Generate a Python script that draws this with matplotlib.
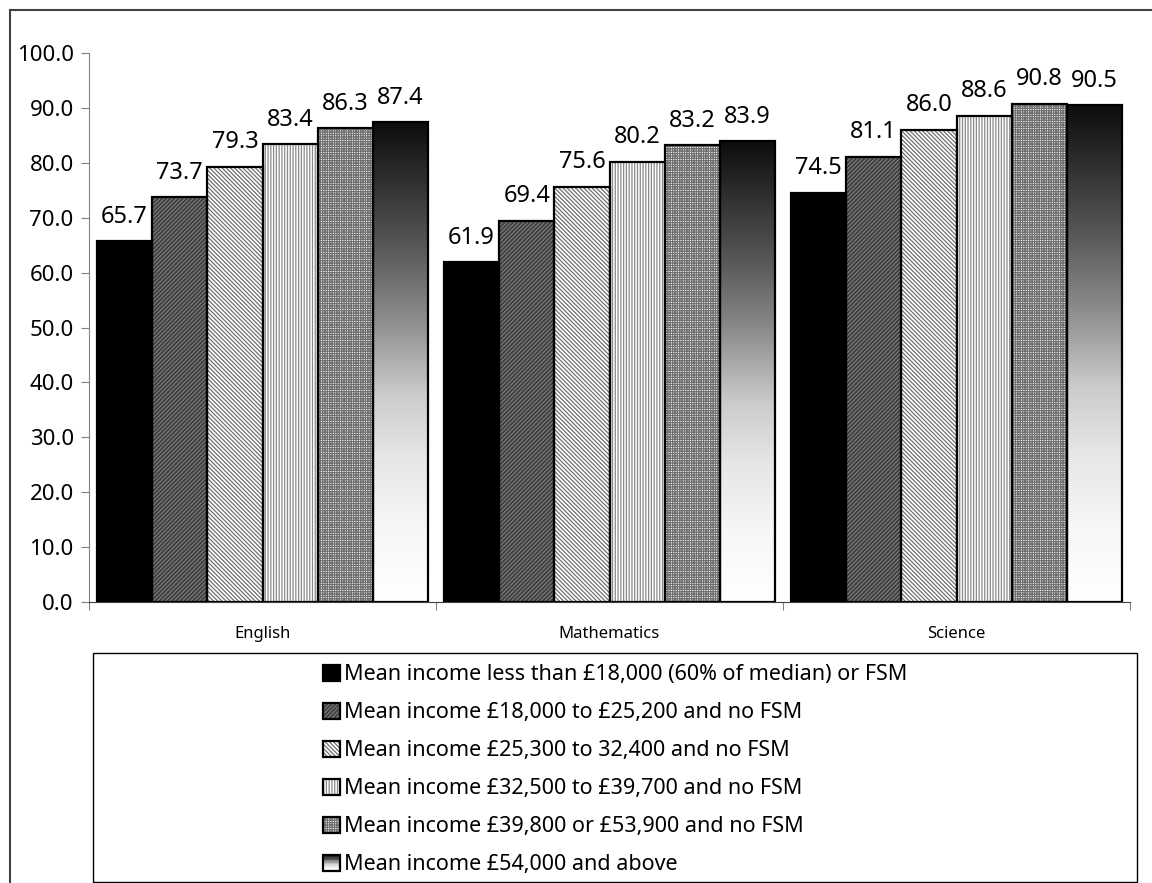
import numpy as np
import matplotlib
matplotlib.use('Agg')
import matplotlib.pyplot as plt
from matplotlib.patches import Rectangle
from matplotlib.lines import Line2D
from matplotlib.legend_handler import HandlerBase
from matplotlib.colors import LinearSegmentedColormap

plt.rcParams['font.family'] = ['Noto Sans', 'DejaVu Sans']
plt.rcParams['hatch.linewidth'] = 0.9

# data
subjects = ['English', 'Mathematics', 'Science']
groups = ['Mean income less than \u00a318,000 (60% of median) or FSM',
          'Mean income \u00a318,000 to \u00a325,200 and no FSM',
          'Mean income \u00a325,300 to 32,400 and no FSM',
          'Mean income \u00a332,500 to \u00a339,700 and no FSM',
          'Mean income \u00a339,800 or \u00a353,900 and no FSM',
          'Mean income \u00a354,000 and above']
english = [65.7, 73.7, 79.3, 83.4, 86.3, 87.4]
maths = [61.9, 69.4, 75.6, 80.2, 83.2, 83.9]
science = [74.5, 81.1, 86.0, 88.6, 90.8, 90.5]
values = np.array([english, maths, science])  # rows = subjects

# styles per income group: (facecolor, hatch, hatch colour); last one is a gradient
styles = [('black', None, None),
          ('#3c3c3c', '////////', '#7a7a7a'),
          ('white', '\\\\\\\\\\\\\\\\', '#707070'),
          ('white', '||||||', '#8a8a8a'),
          ('white', '+++++++', '#707070'),
          (None, 'gradient', None)]

grad_cmap = LinearSegmentedColormap.from_list(
    'g', [(0, '#0d0d0d'), (0.25, '#555555'), (0.4, '#888888'),
          (0.57, '#cccccc'), (0.7, '#e6e6e6'), (0.85, '#f7f7f7'), (1, '#ffffff')])

fig = plt.figure(figsize=(11.52, 8.83), dpi=100)
ax = fig.add_axes([89/1152, 1-602/883, (1130-89)/1152, (602-53)/883])

n = len(groups)
w = 0.954 / n
x = np.arange(len(subjects))
for j in range(n):
    xs = x - 0.477 + w*(j + 0.5)
    fc, hatch, hc = styles[j]
    if hatch == 'gradient':
        bars = ax.bar(xs, values[:, j], w, facecolor='none', edgecolor='black', linewidth=1.6, zorder=3)
        for b in bars:
            x0, h = b.get_x(), b.get_height()
            grad = np.linspace(0, 1, 256).reshape(-1, 1)
            im = ax.imshow(grad, cmap=grad_cmap, aspect='auto', origin='upper',
                           extent=[x0, x0 + w, 0, h], zorder=2)
            im.set_clip_path(b)
    elif hatch is None:
        bars = ax.bar(xs, values[:, j], w, facecolor=fc, edgecolor='black', linewidth=1.6, zorder=3)
    else:
        ax.bar(xs, values[:, j], w, facecolor=fc, edgecolor=hc, hatch=hatch, linewidth=0, zorder=2)
        bars = ax.bar(xs, values[:, j], w, fill=False, edgecolor='black', linewidth=1.6, zorder=3)
    for b, v in zip(bars, values[:, j]):
        ax.annotate(f'{v:.1f}', (b.get_x() + w/2, v), xytext=(0, 9), textcoords='offset points',
                    ha='center', va='bottom', fontsize=17)

ax.set_xlim(-0.5, 2.5)
ax.set_ylim(0, 100)
ax.set_yticks(np.arange(0, 101, 10))
ax.set_yticklabels([f'{t:.1f}' for t in np.arange(0, 101, 10)], fontsize=16)
ax.set_xticks([-0.5, 0.5, 1.5, 2.5])
ax.set_xticklabels([])
ax.set_xticks(x, minor=True)
ax.set_xticklabels(subjects, minor=True, fontsize=12)
ax.tick_params(axis='x', which='minor', length=0, pad=17)
ax.tick_params(axis='x', which='major', length=6, color='#808080', direction='out')
ax.tick_params(axis='y', length=6, color='#808080', pad=5)
for s in ['top', 'right']:
    ax.spines[s].set_visible(False)
ax.spines['left'].set_color('#808080')
ax.spines['bottom'].set_color('#404040')
ax.autoscale(False)


class GradientHandler(HandlerBase):
    def create_artists(self, legend, orig_handle, xdescent, ydescent, width, height, fontsize, trans):
        arts = []
        k = 12
        for i in range(k):
            arts.append(Rectangle((-xdescent, -ydescent + height*(k-1-i)/k), width, height/k,
                                  facecolor=grad_cmap(i/(k-1)), edgecolor='none', transform=trans))
        arts.append(Rectangle((-xdescent, -ydescent), width, height, facecolor='none',
                              edgecolor='black', linewidth=1.6, transform=trans))
        return arts


handles = []
grad_handle = None
for fc, hatch, hc in styles:
    if hatch == 'gradient':
        grad_handle = Rectangle((0, 0), 1, 1)
        handles.append(grad_handle)
    elif hatch is None:
        handles.append(Rectangle((0, 0), 1, 1, facecolor=fc, edgecolor='black', linewidth=1.6))
    else:
        handles.append((Rectangle((0, 0), 1, 1, facecolor=fc, edgecolor=hc, hatch=hatch, linewidth=0),
                        Rectangle((0, 0), 1, 1, fill=False, edgecolor='black', linewidth=1.6)))

# legend box
fig.add_artist(Rectangle((93/1152, 0.001), (1137-93)/1152, 1-653/883-0.001, transform=fig.transFigure,
                         facecolor='none', edgecolor='black', linewidth=1))
leg = fig.legend(handles, groups, loc='center', bbox_to_anchor=((93+1137)/2/1152, (1-653/883)/2 - 0.002),
                 frameon=False, fontsize=15.5, handlelength=0.8, handleheight=0.8, handletextpad=0.15,
                 labelspacing=0.79, handler_map={grad_handle: GradientHandler()})

# outer frame
fig.add_artist(Line2D([10/1152, 10/1152], [0, 1-10/883], transform=fig.transFigure, color='#404040', lw=1.5))
fig.add_artist(Line2D([10/1152, 1], [1-10/883, 1-10/883], transform=fig.transFigure, color='#404040', lw=1.5))

fig.savefig('out.png', dpi=100)
